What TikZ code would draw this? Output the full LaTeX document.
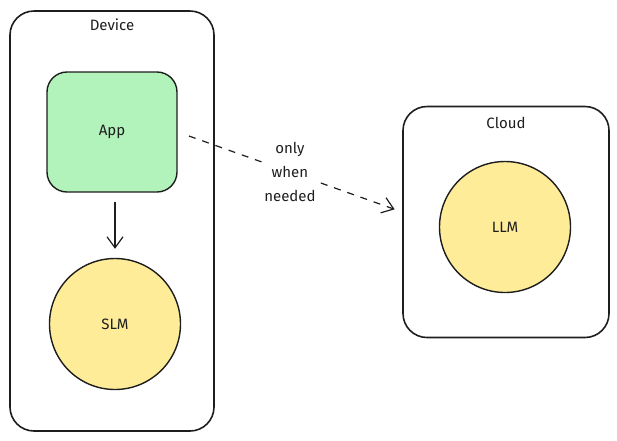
\documentclass[tikz,border=0pt]{standalone}
\usepackage{fontspec}
\setmainfont{Fira Sans}
\usetikzlibrary{arrows.meta}

\definecolor{stroke}{HTML}{1E1E1E}
\definecolor{appgreen}{HTML}{B2F2BB}
\definecolor{modelyellow}{HTML}{FFEC99}

\tikzset{
  container/.style={draw=stroke, line width=1.6pt, rounded corners=24pt},
  appbox/.style={draw=stroke, fill=appgreen, line width=1.4pt, rounded corners=20pt,
    minimum width=130pt, minimum height=120pt},
  model/.style={circle, draw=stroke, fill=modelyellow, line width=1.4pt, minimum size=131pt},
  link/.style={draw=stroke, line width=1.2pt, -{Straight Barb[length=11pt, width=16pt, line width=1.2pt]}}
}

\begin{document}
\begin{tikzpicture}[x=1pt, y=-1pt, font=\fontsize{15}{24}\selectfont, text=stroke]
 		\useasboundingbox (0,0) rectangle (617,440);
 		%containers
 		\node[container, minimum width=204pt, minimum height=420pt] (device) at (112,221) {};
 		\node[anchor=north, yshift=-5pt] (device label) at (device.north) {Device};
 		\node[container, minimum width=206pt, minimum height=231pt] (cloud) at (506,222) {};
 		\node[anchor=north, yshift=-8pt] (cloud label) at (cloud.north) {Cloud};
 		%nodes
 		\node[appbox] (app) at (112,132) {App};
 		\node[model] (slm) at (115,324) {SLM};
 		\node[model] (llm) at (505,227) {LLM};
 		%links
 		\draw[link, shorten <=9pt, shorten >=9pt] (slm.north |- app.south) -- (slm.north);
 		\draw[link, dash pattern=on 7pt off 7pt, shorten <=12pt, shorten >=8pt]
 		(app.east) -- ([yshift=10pt]cloud.west)
 		node[midway, fill=white, align=center, inner sep=1pt] (note) {only\\when\\needed};
\end{tikzpicture}
\end{document}
